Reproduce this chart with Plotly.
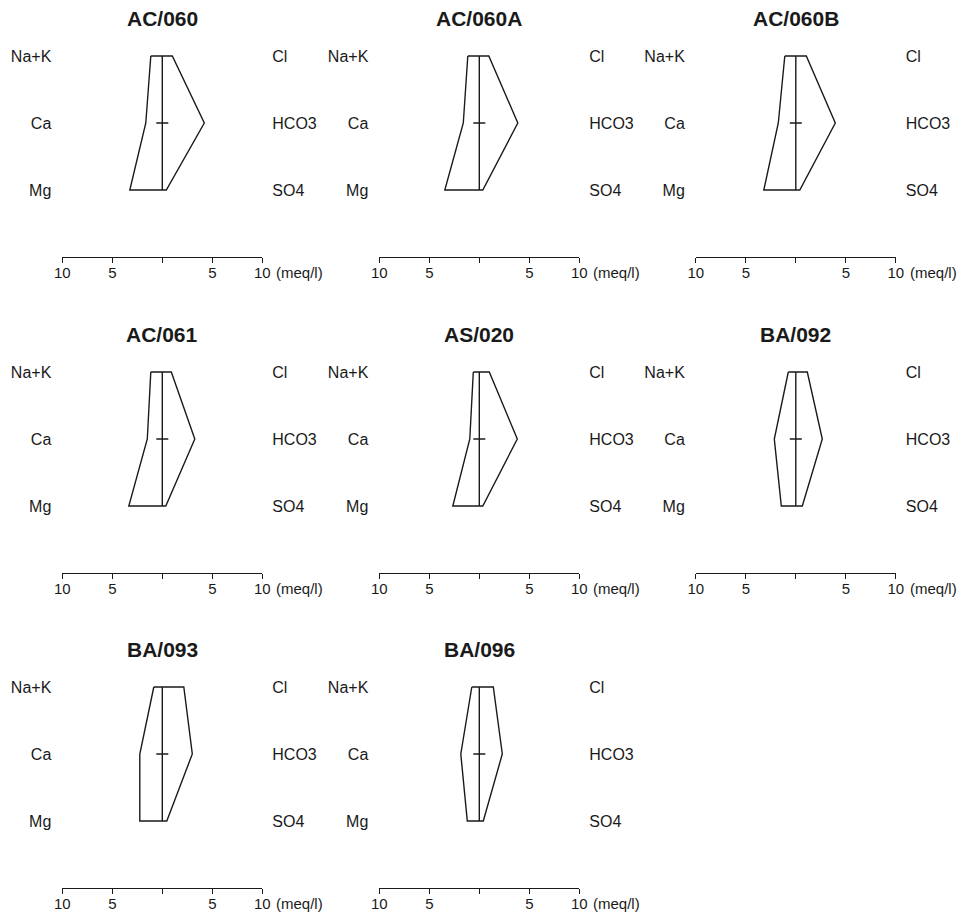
import plotly.graph_objects as go

# ---------------- data (meq/l) ----------------
stations = ["AC/060", "AC/060A", "AC/060B", "AC/061", "AS/020", "BA/092", "BA/093", "BA/096"]
cations = ["Na+K", "Ca", "Mg"]
anions = ["Cl", "HCO3", "SO4"]
na_k = [1.15, 1.15, 1.10, 1.15, 0.60, 0.75, 0.85, 0.75]
ca = [1.65, 1.60, 1.75, 1.50, 0.95, 2.15, 2.25, 1.85]
mg = [3.25, 3.45, 3.20, 3.35, 2.65, 1.45, 2.25, 1.20]
cl = [1.00, 0.95, 1.05, 0.90, 1.00, 1.15, 2.15, 1.40]
hco3 = [4.20, 3.85, 3.95, 3.25, 3.80, 2.65, 3.00, 2.30]
so4 = [0.40, 0.35, 0.40, 0.35, 0.35, 0.65, 0.45, 0.40]
tick_vals = [-10, -5, 0, 5, 10]
tick_text = ["10", "5", "", "5", "10"]
unit_label = "(meq/l)"
ion_levels = [3, 2, 1]

# ---------------- layout geometry ----------------
W, H = 969, 921
col_center = [162.3, 479.3, 795.8]
row_axis = [257.0, 573.0, 888.0]
unit_px = 67.0
y_top = 3.25
FONT = "Liberation Sans, Arial, Helvetica, sans-serif"
LINE = "#1a1a1a"
TXT = "#1a1a1a"

fig = go.Figure()
layout_axes = {}
annotations = []

for i, name in enumerate(stations):
    r, c = divmod(i, 3)
    cx, ax_px = col_center[c], row_axis[r]
    k = i + 1
    xa = "x" if k == 1 else f"x{k}"
    ya = "y" if k == 1 else f"y{k}"
    ya2 = f"y{k + 10}"

    xdom = [(cx - 100) / W, (cx + 100) / W]
    ydom = [(H - ax_px) / H, (H - (ax_px - y_top * unit_px)) / H]

    # Stiff polygon
    px = [-na_k[i], -ca[i], -mg[i], so4[i], hco3[i], cl[i], -na_k[i]]
    py = [3, 2, 1, 1, 2, 3, 3]
    fig.add_trace(go.Scatter(x=px, y=py, mode="lines", xaxis=xa, yaxis=ya,
                             line=dict(color=LINE, width=1.4), hoverinfo="skip"))
    # centre line and tick (drawn on the right-hand axis so that it is shown)
    fig.add_trace(go.Scatter(x=[0, 0], y=[1, 3], mode="lines", xaxis=xa, yaxis=ya2,
                             line=dict(color=LINE, width=1.4), hoverinfo="skip"))
    fig.add_trace(go.Scatter(x=[-0.6, 0.6], y=[2, 2], mode="lines", xaxis=xa, yaxis=ya2,
                             line=dict(color=LINE, width=1.4), hoverinfo="skip"))

    xkey = "xaxis" if k == 1 else f"xaxis{k}"
    ykey = "yaxis" if k == 1 else f"yaxis{k}"
    layout_axes[xkey] = dict(
        domain=xdom, anchor=ya, range=[-10, 10], fixedrange=True, automargin=False,
        showgrid=False, zeroline=False, showline=True, linecolor=LINE, linewidth=1,
        ticks="outside", ticklen=5, tickwidth=1, tickcolor=LINE,
        tickvals=tick_vals, ticktext=tick_text, ticklabelstandoff=-3,
        tickfont=dict(family=FONT, size=15, color=TXT),
    )
    layout_axes[ykey] = dict(
        domain=ydom, anchor=xa, range=[0, y_top], fixedrange=True, automargin=False,
        showgrid=False, zeroline=False, showline=False, ticks="",
        tickvals=ion_levels, ticktext=cations, ticklabelstandoff=10,
        tickfont=dict(family=FONT, size=16, color=TXT),
    )
    layout_axes[f"yaxis{k + 10}"] = dict(
        overlaying=ya, side="right", anchor=xa, range=[0, y_top], fixedrange=True,
        automargin=False,
        showgrid=False, zeroline=False, showline=False, ticks="",
        tickvals=ion_levels, ticktext=anions, ticklabelstandoff=9,
        tickfont=dict(family=FONT, size=16, color=TXT),
    )

    # title
    annotations.append(dict(
        text=f"<b>{name}</b>", xref="paper", yref="paper",
        x=cx / W, y=(H - (ax_px - 3 * unit_px - 38)) / H,
        xanchor="center", yanchor="middle", showarrow=False,
        font=dict(family=FONT, size=21, color=TXT),
    ))
    # unit label
    annotations.append(dict(
        text=unit_label, xref="paper", yref="paper",
        x=(cx + 112) / W, y=(H - (ax_px + 15.0)) / H,
        xanchor="left", yanchor="middle", showarrow=False,
        font=dict(family=FONT, size=15, color=TXT),
    ))

fig.update_layout(
    template="none",
    width=W, height=H, autosize=False,
    margin=dict(l=0, r=0, t=0, b=0, pad=0),
    paper_bgcolor="white", plot_bgcolor="white",
    showlegend=False, annotations=annotations,
    **layout_axes,
)

fig.write_html(
    "out.html",
    config={"displayModeBar": False, "staticPlot": True},
    post_script="document.body.style.margin='0';document.body.style.overflow='hidden';",
)
